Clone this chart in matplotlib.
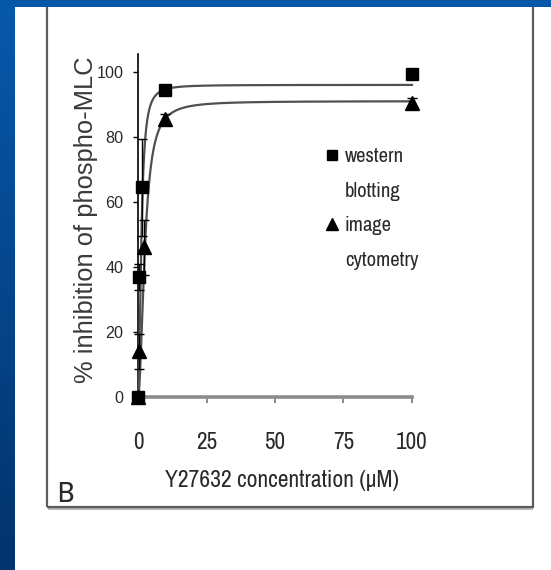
"""Inhibition of phospho-MLC by Y27632 (slide panel B)"""

import numpy as np
import matplotlib
matplotlib.use('Agg')
import matplotlib.pyplot as plt
from matplotlib import font_manager
from matplotlib.colors import LinearSegmentedColormap
from matplotlib.lines import Line2D
from matplotlib.patches import Rectangle

# Western blotting: concentration (uM), % inhibition, error
wb_conc = [0, 0.3, 1.5, 10, 100]
wb_inhib = [0, 37, 64.5, 94.5, 99.5]
wb_err = [0, 4, 15, 1, 1]

# Image cytometry: concentration (uM), % inhibition, error
ic_conc = [0, 0.3, 2.2, 10, 100]
ic_inhib = [0, 14, 46, 85.5, 90.5]
ic_err = [0, 5.5, 8.5, 1.5, 1.5]

# Fitted dose-response curves: (top, EC50, Hill slope)
wb_fit = (96, 1.2, 2.0)
ic_fit = (91, 2.5, 2.0)

x_ticks = [0, 25, 50, 75, 100]
y_ticks = [0, 20, 40, 60, 80, 100]
legend_labels = ['western', 'blotting', 'image', 'cytometry']
x_title = 'Y27632 concentration (\u00b5M)'
y_title = '% inhibition of phospho-MLC'

TEXT = '#2a2a2a'
W, H = 551, 570


def fx(px):
    return px / W


def fy(py):
    return 1 - py / H


def dose_response(x, top, ec50, hill):
    return top * x ** hill / (ec50 ** hill + x ** hill)


def find_font(names, stretch_ok):
    """First installed upright regular font whose name is in names"""
    for wanted in names:
        for f in font_manager.fontManager.ttflist:
            if f.name == wanted and f.style == 'normal' and f.weight in (400, 'normal', 'regular') \
                    and stretch_ok(f.stretch):
                return font_manager.FontProperties(fname=f.fname)
    return font_manager.FontProperties(family=names + ['DejaVu Sans'])


NARROW = find_font(['Liberation Sans Narrow', 'Arial Narrow', 'Archivo Narrow'], lambda s: True)
REGULAR = find_font(['Liberation Sans', 'Arial'], lambda s: s in ('normal', 500))

fig = plt.figure(figsize=(W / 100, H / 100), dpi=100)
fig.patch.set_facecolor('#0a52a3')
renderer = fig.canvas.get_renderer()


def size_for(text, target_px, prop):
    """Font size (pt) that makes the text span target_px, and its height then"""
    t = fig.text(0, 0, text, fontproperties=prop, fontsize=20)
    bb = t.get_window_extent(renderer)
    t.remove()
    return 20 * target_px / bb.width, bb.height / bb.width * target_px


def with_size(prop, size):
    p = prop.copy()
    p.set_size(size)
    return p


# Slide background: dark left strip, white page, framed panel, top band
strip = fig.add_axes([0, 0, fx(15), 1], zorder=-5)
strip.imshow(np.linspace(0, 1, 100).reshape(-1, 1), aspect='auto',
             cmap=LinearSegmentedColormap.from_list('s', ['#0858ab', '#03336c']))
strip.axis('off')
fig.patches.append(Rectangle((fx(15), 0), 1, fy(7), transform=fig.transFigure,
                             facecolor='white', edgecolor='none', zorder=-3))
fig.patches.append(Rectangle((fx(48), fy(510)), fx(533 - 48), 2.5 / H, transform=fig.transFigure,
                             facecolor='#b5b5b5', edgecolor='none', zorder=-2.5))
fig.patches.append(Rectangle((fx(46.5), fy(507)), fx(533 - 46.5), 1, transform=fig.transFigure,
                             facecolor='none', edgecolor='#5c5c5c', linewidth=1.6, zorder=-2))
fig.patches.append(Rectangle((0, fy(7)), 1, 7 / H, transform=fig.transFigure,
                             facecolor='#0656a8', edgecolor='none', zorder=-1))

# Chart axes
ax = fig.add_axes([fx(138), fy(397), fx(412 - 138), (397 - 54) / H])
ax.patch.set_alpha(0)

xs = np.concatenate([np.linspace(0, 2, 200), np.linspace(2, 100, 500)])
ax.plot(xs, dose_response(xs, *wb_fit), color='#505050', linewidth=1.6, zorder=3, clip_on=False)
ax.plot(xs, dose_response(xs, *ic_fit), color='#505050', linewidth=1.6, zorder=3, clip_on=False)

ax.errorbar(wb_conc, wb_inhib, yerr=wb_err, fmt='s', color='k', ms=8, capsize=3.5,
            elinewidth=1, capthick=1, clip_on=False, zorder=4)
ax.errorbar(ic_conc, ic_inhib, yerr=ic_err, fmt='^', color='k', ms=9.5, capsize=3.5,
            elinewidth=1, capthick=1, clip_on=False, zorder=4)

ax.set_xlim(0, 100)
ax.set_ylim(0, 105.5)
ax.set_xticks(x_ticks)
ax.set_yticks(y_ticks)

for side in ['top', 'right']:
    ax.spines[side].set_visible(False)
ax.spines['left'].set_color('black')
ax.spines['left'].set_linewidth(1.2)
ax.spines['bottom'].set_color('#8c8c8c')
ax.spines['bottom'].set_linewidth(2.6)

# Font sizes fitted to the widths measured on the reference
xtick_size, _ = size_for('100', 32, NARROW)
ytick_size, _ = size_for('80', 18, REGULAR)
xlab_size, _ = size_for(x_title, 235, NARROW)
ylab_size, _ = size_for(y_title, 326, REGULAR)
leg_size, leg_h = size_for('cytometry', 73, NARROW)
b_size, _ = size_for('B', 16, NARROW)

ax.tick_params(axis='y', length=3.5, width=1, pad=7, labelcolor=TEXT)
ax.tick_params(axis='x', length=4, width=1.2, color='#777777', pad=21, labelcolor=TEXT)
for lbl in ax.get_xticklabels():
    lbl.set_fontproperties(with_size(NARROW, xtick_size))
for lbl in ax.get_yticklabels():
    lbl.set_fontproperties(with_size(REGULAR, ytick_size))

ax.set_ylabel(y_title, fontproperties=with_size(REGULAR, ylab_size), color='#3a3a3a')
ax.yaxis.set_label_coords(-0.146, 0.516)
ax.set_xlabel(x_title, fontproperties=with_size(NARROW, xlab_size), color=TEXT)
ax.xaxis.set_label_coords(0.524, -0.212)

# Legend: one row per text line, marker beside the first line
leg_px = leg_size * 100 / 72
row_pitch = 33.3
handles = [Line2D([], [], marker='s', ls='none', color='k', ms=7.5), Line2D([], [], ls='none'),
           Line2D([], [], marker='^', ls='none', color='k', ms=8.5), Line2D([], [], ls='none')]
leg = ax.legend(handles, legend_labels, loc='upper left',
                bbox_to_anchor=(fx(324), fy(155 - leg_h / 2 + 1)),
                bbox_transform=fig.transFigure, frameon=False, borderpad=0, borderaxespad=0,
                handlelength=16 / leg_px, handletextpad=5 / leg_px,
                labelspacing=(row_pitch - leg_h + 1) / leg_px,
                prop=with_size(NARROW, leg_size))
for t in leg.get_texts():
    t.set_color(TEXT)

fig.text(fx(57), fy(502), 'B', fontproperties=with_size(NARROW, b_size), color=TEXT, va='baseline')

fig.savefig('out.png', dpi=100, facecolor=fig.get_facecolor())
